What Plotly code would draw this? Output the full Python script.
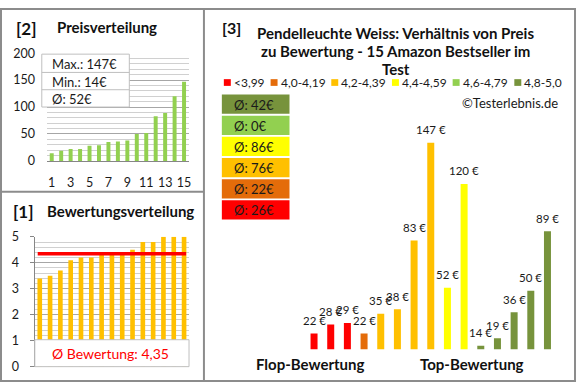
import plotly.graph_objects as go

W, H = 580, 390
FONT = "Lato"
TXT = "#1a1a1a"

# ---------------- data ----------------
positions = list(range(1, 16))
ratings = [3.4, 3.5, 3.7, 4.1, 4.2, 4.2, 4.3, 4.3, 4.4, 4.5, 4.8, 4.8, 5.0, 5.0, 5.0]
prices = [22, 28, 29, 22, 35, 38, 83, 147, 52, 120, 14, 19, 36, 50, 89]
price_ticks = [1, 3, 5, 7, 9, 11, 13, 15]
class_labels = ["<3,99", "4,0-4,19", "4,2-4,39", "4,4-4,59", "4,6-4,79", "4,8-5,0"]
class_lower = [0.0, 4.0, 4.2, 4.4, 4.6, 4.8]
class_colors = ["#FF0000", "#E46C0A", "#FFC000", "#FFFF00", "#92D050", "#77933C"]
class_avg = [26, 22, 76, 86, 0, 42]
price_max, price_min, price_avg = 147, 14, 52
rating_avg = 4.35
main_axis_min = 11.7
main_axis_max = 153.3


def px(x):
    return x / W


def py(y):
    return 1 - y / H


def rating_class(r):
    idx = 0
    for i, lo in enumerate(class_lower):
        if r >= lo - 1e-9:
            idx = i
    return idx


bar_colors = [class_colors[rating_class(r)] for r in ratings]
sorted_prices = sorted(prices)

fig = go.Figure()
fig.add_trace(go.Bar(x=positions, y=sorted_prices, xaxis="x", yaxis="y",
                     marker=dict(color="#92D050", line_width=0), width=0.42,
                     hoverinfo="skip"))
fig.add_trace(go.Bar(x=positions, y=ratings, xaxis="x2", yaxis="y2",
                     marker=dict(color="#FFC000", line_width=0), width=0.45,
                     hoverinfo="skip"))
fig.add_trace(go.Scatter(x=[0.8, 15.2], y=[rating_avg, rating_avg], xaxis="x2", yaxis="y2",
                         mode="lines", line=dict(color="#FF0000", width=3.5),
                         hoverinfo="skip"))
fig.add_trace(go.Bar(x=positions, y=prices, xaxis="x3", yaxis="y3",
                     marker=dict(color=bar_colors, line_width=0), width=0.42,
                     hoverinfo="skip"))

tickfont = dict(family=FONT, size=12.5, color=TXT)
GRID_MAJ = "#a6a6a6"
GRID_MIN = "#d0d0d0"

layout = dict(
    width=W, height=H, margin=dict(l=0, r=0, t=0, b=0),
    paper_bgcolor="white", plot_bgcolor="rgba(0,0,0,0)",
    showlegend=False, font=dict(family=FONT, color=TXT),
    xaxis=dict(domain=[px(47.25), px(189.75)], range=[0.5, 15.5], anchor="y",
               tickvals=price_ticks, showline=True, linecolor="#868686", linewidth=1,
               showgrid=False, zeroline=False, ticks="", tickfont=tickfont,
               ticklabelstandoff=10, fixedrange=True),
    yaxis=dict(domain=[py(159), py(47)], range=[0, 200], anchor="x", dtick=50,
               showgrid=True, gridcolor=GRID_MAJ, gridwidth=1,
               minor=dict(dtick=10, showgrid=True, gridcolor=GRID_MIN, gridwidth=1),
               zeroline=False, showline=False, ticks="", tickfont=tickfont,
               ticklabelstandoff=11),
    xaxis2=dict(domain=[px(34.8), px(190.2)], range=[0.5, 15.5], anchor="y2",
                showticklabels=False, showgrid=False, zeroline=False, showline=False,
                ticks=""),
    yaxis2=dict(domain=[py(373), py(238)], range=[0, 5], anchor="x2", dtick=1,
                showgrid=True, gridcolor=GRID_MAJ, gridwidth=1,
                minor=dict(dtick=0.2, showgrid=True, gridcolor=GRID_MIN, gridwidth=1),
                zeroline=False, showline=True, linecolor="#868686", linewidth=1,
                ticks="outside", ticklen=4, tickcolor="#868686", tickfont=tickfont,
                ticklabelstandoff=8),
    xaxis3=dict(domain=[px(307.3), px(558.7)], range=[0.5, 15.5], anchor="y3", visible=False),
    yaxis3=dict(domain=[py(355), py(130)], range=[main_axis_min, main_axis_max],
                anchor="x3", visible=False),
)
fig.update_layout(**layout)

shapes = []
annotations = []
BORDER = "#8c8c8c"
# panel frames
shapes.append(dict(type="rect", xref="paper", yref="paper", x0=px(1), x1=px(578), y0=py(388), y1=py(1),
                   line=dict(color=BORDER, width=2), layer="above"))
shapes.append(dict(type="line", xref="paper", yref="paper", x0=px(205), x1=px(205), y0=py(388), y1=py(1),
                   line=dict(color=BORDER, width=2), layer="above"))
shapes.append(dict(type="line", xref="paper", yref="paper", x0=px(1), x1=px(205), y0=py(191), y1=py(191),
                   line=dict(color=BORDER, width=2), layer="above"))

# price info box
BOXLINE = "#bfbfbf"
shapes.append(dict(type="rect", xref="paper", yref="paper", x0=px(42), x1=px(130), y0=py(103), y1=py(48),
                   fillcolor="white", line=dict(color=BOXLINE, width=1), layer="above"))
for yy in (67, 85):
    shapes.append(dict(type="line", xref="paper", yref="paper", x0=px(42), x1=px(130), y0=py(yy), y1=py(yy),
                       line=dict(color=BOXLINE, width=1), layer="above"))
info_texts = [f"Max.: {price_max}€", f"Min.: {price_min}€", f"Ø: {price_avg}€"]
for t, yc in zip(info_texts, (58, 76.5, 94.5)):
    annotations.append(dict(text=t, xref="paper", yref="paper", x=px(50), y=py(yc),
                            xanchor="left", yanchor="middle", showarrow=False,
                            font=dict(family=FONT, size=13, color=TXT)))

# rating average box
shapes.append(dict(type="rect", xref="paper", yref="paper", x0=px(35), x1=px(190), y0=py(373), y1=py(345),
                   fillcolor="white", line=dict(color=BOXLINE, width=1), layer="above"))
annotations.append(dict(text="Ø Bewertung: " + f"{rating_avg:.2f}".replace(".", ","),
                        xref="paper", yref="paper", x=px(111), y=py(359),
                        xanchor="center", yanchor="middle", showarrow=False,
                        font=dict(family=FONT, size=14, color="#FF0000")))

# titles
def title(text, xc, yc, size, anchor="center"):
    annotations.append(dict(text=f"<b>{text}</b>", xref="paper", yref="paper", x=px(xc), y=py(yc),
                            xanchor=anchor, yanchor="middle", showarrow=False,
                            font=dict(family=FONT, size=size, color="#111111")))

title("[2]", 27, 21, 17)
title("Preisverteilung", 108, 20, 15)
title("[1]", 24, 212, 17)
title("Bewertungsverteilung", 121, 211, 15)
title("[3]", 233, 20, 16)
title("Pendelleuchte Weiss: Verhältnis von Preis", 398, 26, 15)
title("zu Bewertung - 15 Amazon Bestseller im", 398, 45, 15)
title("Test", 398, 63.5, 15)
title("Flop-Bewertung", 312, 370, 15)
title("Top-Bewertung", 474, 370, 15)

annotations.append(dict(text="©Testerlebnis.de", xref="paper", yref="paper", x=px(563), y=py(99),
                        xanchor="right", yanchor="middle", showarrow=False,
                        font=dict(family=FONT, size=13, color=TXT)))

# legend row
legend_x = [225, 272, 333, 394, 455, 517]
for lx, lab, col in zip(legend_x, class_labels, class_colors):
    shapes.append(dict(type="rect", xref="paper", yref="paper", x0=px(lx), x1=px(lx + 7),
                       y0=py(81), y1=py(74), fillcolor=col, line=dict(width=0), layer="above"))
    annotations.append(dict(text=lab, xref="paper", yref="paper", x=px(lx + 8), y=py(77.5),
                            xanchor="left", yanchor="middle", showarrow=False,
                            font=dict(family=FONT, size=12, color=TXT)))

# class average boxes (top: best class)
box_top = 90
for k, i in enumerate(reversed(range(len(class_colors)))):
    y0 = box_top + k * 22
    shapes.append(dict(type="rect", xref="paper", yref="paper", x0=px(223), x1=px(291),
                       y0=py(y0 + 20), y1=py(y0), fillcolor=class_colors[i],
                       line=dict(width=0), layer="above"))
    annotations.append(dict(text=f"Ø: {class_avg[i]}€", xref="paper", yref="paper", x=px(233),
                            y=py(y0 + 10.5), xanchor="left", yanchor="middle", showarrow=False,
                            font=dict(family=FONT, size=13, color=TXT)))

# value labels above main bars
for xv, p in zip(positions, prices):
    annotations.append(dict(text=f"{p} €", xref="x3", yref="y3", x=xv, y=p, yshift=13,
                            xanchor="center", yanchor="middle", showarrow=False,
                            font=dict(family=FONT, size=11.5, color=TXT)))

fig.update_layout(shapes=shapes, annotations=annotations)
fig.write_html("out.html", config={"displayModeBar": False},
               post_script="document.body.style.margin='0px';document.body.style.overflow='hidden';")
